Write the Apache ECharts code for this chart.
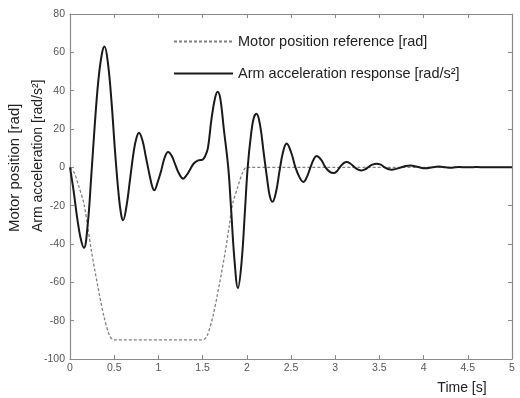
<!DOCTYPE html>
<html>
<head>
<meta charset="utf-8">
<script src="https://cdn.jsdelivr.net/npm/echarts@6/dist/echarts.min.js"></script>
<style>
  html, body { margin: 0; background: #fff; }
  #chart { width: 520px; height: 398px; }
</style>
</head>
<body>
<div id="chart"></div>
<script>
// motor position reference [rad]
const motorTime = [0, 0.05, 0.1, 0.158, 0.2, 0.24, 0.31, 0.385, 0.45, 0.5, 1.5, 1.55, 1.615, 1.69, 1.76, 1.8, 1.84, 1.9, 1.95, 2.0, 5]
const motorPos = [0, -3, -10, -19, -31, -43, -61, -78, -88, -90, -90, -88, -78, -61, -43, -31, -19, -10, -3, 0, 0]

// arm acceleration response [rad/s^2]
const armTime = [
  0, 0.04, 0.08, 0.12, 0.158, 0.2, 0.24, 0.28, 0.32, 0.36, 0.39,
  0.43, 0.47, 0.51, 0.55, 0.58, 0.6, 0.64, 0.68, 0.72, 0.75, 0.78,
  0.82, 0.86, 0.9, 0.93, 0.954, 0.99, 1.03, 1.07, 1.11, 1.15, 1.19, 1.23, 1.28,
  1.32, 1.36, 1.4, 1.45, 1.5, 1.53, 1.56, 1.6, 1.64, 1.67,
  1.7, 1.74, 1.79, 1.82, 1.86, 1.9, 1.94, 1.98, 2.01, 2.05, 2.08, 2.11,
  2.15, 2.19, 2.23, 2.26, 2.29, 2.33, 2.37, 2.41, 2.45,
  2.5, 2.55, 2.6, 2.64, 2.68, 2.72, 2.76, 2.79, 2.84, 2.89, 2.94, 2.98,
  3.02, 3.06, 3.1, 3.13, 3.17, 3.22, 3.26, 3.3, 3.34, 3.38, 3.42, 3.47,
  3.51, 3.56, 3.6, 3.64, 3.69, 3.75, 3.8, 3.85, 3.9, 3.95, 4.02, 4.1,
  4.17, 4.25, 4.32, 4.4, 4.5, 4.6, 4.7, 4.8, 4.9, 5,
]
const armAcc = [
  0, -12, -26, -37, -42, -30, -5, 22, 45, 59, 63,
  54, 34, 8, -14, -25, -27.6, -20, -6, 8, 15, 18,
  14, 5, -4, -10, -12, -8, -2, 5, 8, 6, 1.5, -3, -5.9,
  -4, -1, 2, 3.6, 4, 6, 10, 25, 36, 39.5,
  36, 20, 0, -20, -48, -63, -50, -22, 0, 18, 26, 28,
  22, 8, -6, -15, -18, -13, -2, 8, 12.4,
  8, 0, -5.5, -7.6, -5, 0, 4.5, 5.9, 4, 0, -2.4, -3,
  -2, 0.5, 2.3, 2.8, 2, 0, -1.2, -1.6, -1, 0.3, 1.4, 1.9,
  1.5, 0, -0.9, -1.2, -0.8, 0, 0.7, 0.9, 0.6, 0, -0.5, 0,
  0.4, 0, -0.2, 0.2, 0, 0.15, 0, 0.1, 0, 0,
]

const seriesNames = ['Motor position reference [rad]', 'Arm acceleration response [rad/s\u00b2]']
const yNames = ['Motor position [rad]', 'Arm acceleration [rad/s\u00b2]']
const xName = 'Time [s]'

const font = '"Liberation Sans", Arial, sans-serif'
const axisColor = '#8a8a8a'

const zip = (xs, ys) => xs.map((x, i) => [x, ys[i]])

function timeAxis(position, showLabel) {
  return {
    type: 'value',
    position,
    min: 0,
    max: 5,
    interval: 0.5,
    axisLine: { onZero: false, lineStyle: { color: axisColor, width: 1.2 } },
    axisTick: { inside: true, length: 4, lineStyle: { color: axisColor } },
    axisLabel: { show: showLabel, fontSize: 10.5, color: '#555', fontFamily: font, margin: 4 },
    splitLine: { show: false },
  }
}

function valueAxis(position, showLabel) {
  return {
    type: 'value',
    position,
    min: -100,
    max: 80,
    interval: 20,
    axisLine: { onZero: false, lineStyle: { color: axisColor, width: 1.2 } },
    axisTick: { inside: true, length: 4, lineStyle: { color: axisColor } },
    axisLabel: { show: showLabel, fontSize: 10.5, color: '#555', fontFamily: font, margin: 5 },
    splitLine: { show: false },
  }
}

const chart = echarts.init(document.getElementById('chart'))
chart.setOption({
  animation: false,
  backgroundColor: '#fff',
  grid: { left: 70, right: 8, top: 14, bottom: 39 },
  xAxis: [timeAxis('bottom', true), timeAxis('top', false)],
  yAxis: [valueAxis('left', true), valueAxis('right', false)],
  legend: {
    orient: 'vertical',
    left: 168,
    top: 29,
    itemWidth: 59,
    itemHeight: 14,
    itemGap: 17,
    itemStyle: { opacity: 0, borderWidth: 0 },
    textStyle: { fontSize: 14.5, color: '#222', fontFamily: font },
    data: seriesNames,
  },
  graphic: [
    {
      type: 'text', x: 15, y: 232, rotation: Math.PI / 2,
      style: { text: yNames[0], font: '15px ' + font, fill: '#222', align: 'left', verticalAlign: 'middle' },
    },
    {
      type: 'text', x: 38, y: 232, rotation: Math.PI / 2,
      style: { text: yNames[1], font: '14px ' + font, fill: '#222', align: 'left', verticalAlign: 'middle' },
    },
    {
      type: 'text', x: 462, y: 388,
      style: { text: xName, font: '14px ' + font, fill: '#222', align: 'center', verticalAlign: 'middle' },
    },
  ],
  series: [
    {
      name: seriesNames[0],
      type: 'line',
      symbol: 'none',
      smooth: 0.3,
      data: zip(motorTime, motorPos),
      lineStyle: { color: '#808080', width: 1.3, type: [3, 2] },
      itemStyle: { color: '#808080' },
      z: 2,
    },
    {
      name: seriesNames[1],
      type: 'line',
      symbol: 'none',
      smooth: 0.4,
      data: zip(armTime, armAcc),
      lineStyle: { color: '#1a1a1a', width: 2 },
      itemStyle: { color: '#1a1a1a' },
      z: 3,
    },
  ],
})
</script>
</body>
</html>
